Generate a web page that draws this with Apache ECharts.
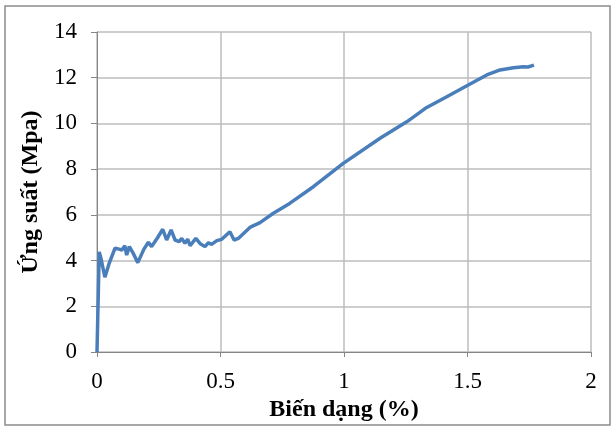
<!DOCTYPE html>
<html>
<head>
<meta charset="utf-8">
<script src="https://cdn.jsdelivr.net/npm/echarts@6/dist/echarts.min.js"></script>
<style>
	html, body { margin: 0; padding: 0; background: #fff; }
	#stressChart { width: 613px; height: 428px; }
</style>
</head>
<body>
<div id="stressChart"></div>
<script>
// biến dạng (%) và ứng suất (Mpa)
var strainX = [0, 0.009, 0.016, 0.032, 0.05, 0.073, 0.09, 0.1, 0.113, 0.12, 0.131, 0.145, 0.165, 0.19, 0.208, 0.221, 0.245, 0.266, 0.282, 0.30, 0.316, 0.333, 0.343, 0.356, 0.367, 0.377, 0.40, 0.417, 0.437, 0.451, 0.464, 0.485, 0.505, 0.538, 0.555, 0.572, 0.619, 0.66, 0.714, 0.78, 0.876, 0.997, 1.146, 1.254, 1.335, 1.416, 1.503, 1.578, 1.632, 1.686, 1.726, 1.745, 1.769];
var stressY = [0, 4.38, 4.1, 3.27, 3.9, 4.54, 4.5, 4.46, 4.64, 4.24, 4.61, 4.35, 3.91, 4.5, 4.8, 4.61, 5.0, 5.37, 4.9, 5.34, 4.9, 4.83, 4.97, 4.75, 4.94, 4.65, 4.97, 4.75, 4.61, 4.78, 4.71, 4.87, 4.93, 5.26, 4.9, 4.97, 5.45, 5.66, 6.07, 6.5, 7.23, 8.25, 9.35, 10.07, 10.70, 11.17, 11.68, 12.12, 12.34, 12.44, 12.48, 12.47, 12.55];
var xTicks = [0, 0.5, 1, 1.5, 2];
var yTicks = [0, 2, 4, 6, 8, 10, 12, 14];

var stressChart = {
	init: function() {
		this.chart();
	},
	chart: function() {
		var myChart = echarts.init(document.getElementById('stressChart'));
		var points = [];
		strainX.forEach(function(v, i) {
			points.push([v, stressY[i]]);
		});
		var font = '"Liberation Serif", "Times New Roman", serif';
		var option = {
			animation: false,
			graphic: [{
				type: 'rect',
				shape: { x: 5, y: 6, width: 605, height: 419 },
				style: { fill: 'none', stroke: '#8c8c8c', lineWidth: 1.5 }
			}],
			grid: {
				left: 97,
				right: 22,
				top: 32,
				bottom: 76
			},
			xAxis: {
				type: 'value',
				min: xTicks[0],
				max: xTicks[xTicks.length - 1],
				interval: 0.5,
				name: 'Biến dạng (%)',
				nameLocation: 'middle',
				nameGap: 44,
				nameTextStyle: { fontFamily: font, fontWeight: 'bold', fontSize: 24, color: '#000' },
				axisLine: { lineStyle: { color: '#868686', width: 1 } },
				axisTick: { show: true, length: 5, lineStyle: { color: '#868686' } },
				axisLabel: { fontFamily: font, fontSize: 23, color: '#000', margin: 18 },
				splitLine: { show: true, lineStyle: { color: '#bdbdbd', width: 1.5 } }
			},
			yAxis: {
				type: 'value',
				min: yTicks[0],
				max: yTicks[yTicks.length - 1],
				interval: 2,
				name: 'Ứng suất (Mpa)',
				nameLocation: 'middle',
				nameGap: 50,
				nameTextStyle: { fontFamily: font, fontWeight: 'bold', fontSize: 24, color: '#000' },
				axisLine: { show: true, lineStyle: { color: '#868686', width: 1 } },
				axisTick: { show: true, length: 6, lineStyle: { color: '#868686' } },
				axisLabel: { fontFamily: font, fontSize: 23, color: '#000', margin: 20 },
				splitLine: { show: true, lineStyle: { color: '#bdbdbd', width: 1.5 } }
			},
			series: [{
				type: 'line',
				data: points,
				showSymbol: false,
				smooth: false,
				lineStyle: { color: '#4a7ebb', width: 3.5 },
				itemStyle: { color: '#4a7ebb' }
			}]
		};
		myChart.setOption(option, true);
	}
};
stressChart.init();
</script>
</body>
</html>
